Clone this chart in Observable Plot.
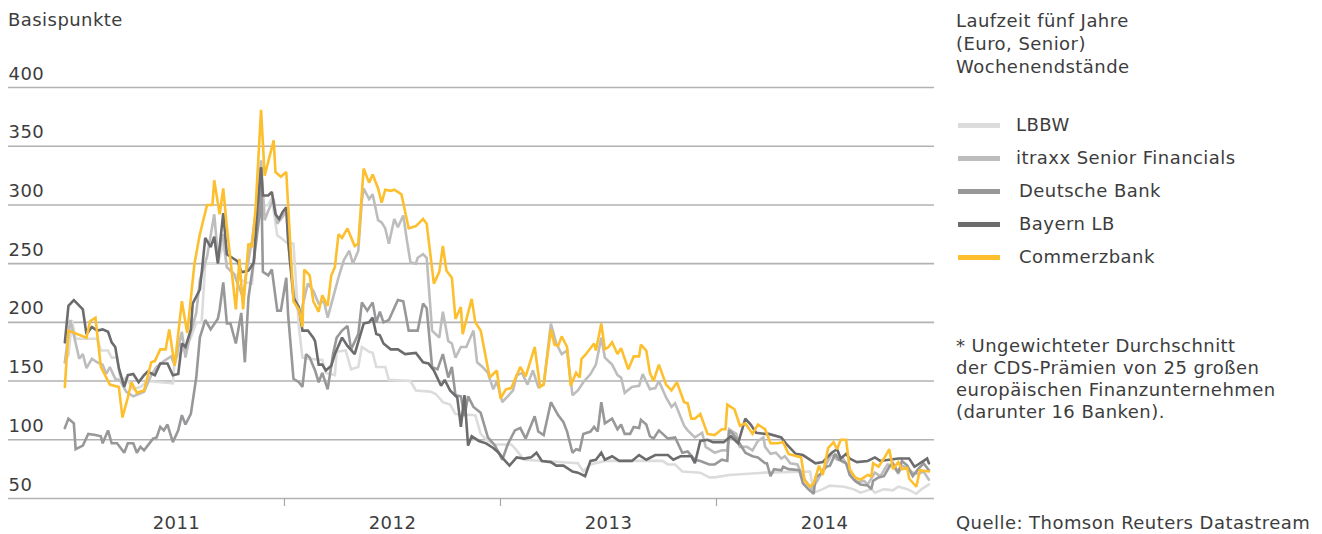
<!DOCTYPE html>
<html><head><meta charset="utf-8">
<script src="https://cdn.jsdelivr.net/npm/d3@7"></script>
<script src="https://cdn.jsdelivr.net/npm/@observablehq/plot@0.6"></script>
<style>
body{margin:0;background:#fff;font-family:"DejaVu Sans",sans-serif;color:#3d3d3d;}
#wrap{position:relative;width:1322px;height:534px;overflow:hidden;background:#fff;}
#chart{position:absolute;left:0;top:0;}
.t{position:absolute;font-size:18px;line-height:23px;letter-spacing:0.45px;white-space:nowrap;color:#3d3d3d;}
.sw{position:absolute;width:42px;height:5px;}
</style></head><body>
<div id="wrap">
<div id="chart"></div>
<div class="t" style="left:8px;top:8px">Basispunkte</div>
<div class="t" style="left:956px;top:9px">Laufzeit fünf Jahre<br>(Euro, Senior)<br>Wochenendstände</div>
<div id="legend"></div>
<div class="t" style="left:956px;top:335px;line-height:22px">* Ungewichteter Durchschnitt<br>der CDS-Prämien von 25 großen<br>europäischen Finanzunternehmen<br>(darunter 16 Banken).</div>
<div class="t" style="left:956px;top:511px">Quelle: Thomson Reuters Datastream</div>
</div>
<script>
// x = Monate seit Januar 2011 (0 = Anfang 2011), y = Basispunkte
const yTicks = [50, 100, 150, 200, 250, 300, 350, 400];
const yearLabels = ["2011", "2012", "2013", "2014"];
const yearMids = [6, 18, 30, 42];
const yearBounds = [12, 24, 36];

const seriesNames = ["LBBW", "itraxx Senior Financials", "Deutsche Bank", "Bayern LB", "Commerzbank"];
const seriesColors = ["#dcdcdc", "#bdbdbd", "#98989a", "#6c6c6f", "#fdbf2d"];

const lbbw = [[-0.2,166],[0,172],[0.2,202],[0.4,186],[1.6,186],[1.8,176],[2.2,176],[2.4,170],[2.7,170],[2.9,150],[3.2,153],[3.6,143],[4.0,145],[4.4,150],[5.8,148],[5.9,168],[6.2,174],[6.5,178],[6.8,187],[7.1,200],[7.4,200],[7.6,250],[8.1,250],[8.3,250],[8.6,267],[8.8,247],[9.6,236],[9.9,234],[10.2,233],[10.4,275],[10.6,297],[10.8,299],[11.1,300],[11.3,306],[11.6,274],[11.8,272],[12.1,268],[12.5,267],[12.8,196],[13.0,170],[13.4,169],[14.1,168],[14.3,157],[14.8,155],[14.9,175],[15.4,176],[15.7,160],[16.1,162],[16.3,179],[16.7,175],[16.9,174],[17.1,162],[17.6,162],[17.8,151],[19.0,150],[19.3,142],[20.1,141],[20.4,139],[20.8,132],[21.2,130],[21.5,122],[22.6,121],[22.9,105],[23.3,99],[23.7,96],[24.6,96],[24.9,91],[25.3,83],[26.4,82],[28.3,80],[28.6,73],[29.0,79],[29.8,82],[33.0,82],[33.3,79],[33.7,79],[34.1,73],[35.1,72],[35.6,68],[35.9,68],[36.7,70],[38.7,72],[41.2,73],[41.4,55],[41.9,58],[42.3,61],[43.1,60],[43.6,58],[44.0,55],[44.6,58],[44.8,55],[45.3,58],[45.8,57],[46.1,60],[46.6,58],[47.1,54],[47.4,58],[47.8,62]];

const itraxx = [[-0.2,166],[0.1,202],[0.3,189],[0.6,169],[0.8,173],[1.0,161],[1.3,169],[1.6,166],[1.9,164],[2.1,156],[2.3,162],[2.6,152],[2.9,150],[3.2,141],[3.4,139],[3.6,137],[3.9,139],[4.2,141],[4.6,155],[4.9,162],[5.3,167],[5.7,171],[5.9,164],[6.3,192],[6.5,170],[6.8,192],[7.1,208],[7.3,236],[7.7,256],[8.1,292],[8.3,256],[8.6,275],[8.8,247],[9.2,241],[9.7,221],[9.9,244],[10.2,270],[10.5,304],[10.7,338],[10.9,287],[11.1,295],[11.4,305],[11.6,284],[11.9,290],[12.1,295],[12.3,253],[12.6,216],[12.9,207],[13.2,227],[13.3,233],[13.6,227],[13.9,216],[14.2,218],[14.4,204],[14.7,221],[15.0,238],[15.3,253],[15.6,261],[15.8,250],[16.1,261],[16.3,304],[16.4,314],[16.7,305],[16.9,309],[17.2,287],[17.4,285],[17.6,280],[17.8,267],[18.1,288],[18.3,281],[18.6,291],[18.8,270],[19.0,251],[19.3,250],[19.4,255],[19.7,258],[19.9,255],[20.2,193],[20.6,187],[20.8,209],[21.1,184],[21.3,182],[21.5,170],[21.8,179],[22.1,179],[22.3,186],[22.5,193],[22.7,166],[23.0,162],[23.3,157],[23.6,143],[23.8,150],[24.1,132],[24.4,137],[24.7,142],[24.9,155],[25.2,157],[25.5,147],[25.8,159],[26.1,145],[26.4,147],[26.8,199],[27.1,182],[27.4,173],[27.7,176],[28.0,138],[28.3,142],[28.6,149],[29.0,156],[29.3,164],[29.6,187],[29.8,170],[30.2,164],[30.5,155],[30.7,153],[30.9,140],[31.3,145],[31.7,146],[31.9,156],[32.3,143],[32.6,144],[32.8,150],[33.2,136],[33.5,128],[33.7,131],[34.2,112],[34.4,108],[34.8,102],[35.2,106],[35.4,94],[35.7,91],[35.9,89],[36.3,91],[36.6,91],[36.7,109],[37.1,105],[37.3,94],[37.7,94],[38.0,91],[38.3,99],[38.6,102],[38.7,94],[39.0,88],[39.3,89],[39.6,84],[39.8,86],[40.1,80],[40.5,79],[40.8,68],[41.1,62],[41.3,58],[41.6,65],[41.9,74],[42.2,82],[42.4,88],[42.7,83],[43.0,85],[43.3,77],[43.6,68],[43.8,64],[44.2,65],[44.4,62],[44.8,72],[45.1,69],[45.5,79],[45.8,78],[46.1,71],[46.3,78],[46.6,76],[46.9,72],[47.2,71],[47.5,73],[47.8,66]];

const deutscheBank = [[-0.2,110],[0,118],[0.3,114],[0.4,92],[0.8,95],[1.1,105],[1.5,104],[1.8,103],[1.9,97],[2.2,108],[2.4,97],[2.7,97],[3.1,89],[3.3,97],[3.6,97],[3.8,89],[4.0,94],[4.2,91],[4.7,101],[4.9,102],[5.1,111],[5.3,108],[5.5,113],[5.8,98],[6.1,108],[6.3,121],[6.5,113],[6.8,122],[7.1,153],[7.3,187],[7.6,202],[7.9,194],[8.3,203],[8.4,211],[8.6,234],[8.8,199],[9.0,199],[9.3,182],[9.6,208],[9.8,166],[10.0,221],[10.3,253],[10.6,290],[10.7,332],[10.8,243],[11.1,240],[11.3,245],[11.6,210],[11.8,210],[12.1,238],[12.2,207],[12.5,152],[12.8,149],[13.0,145],[13.2,173],[13.4,170],[13.7,159],[13.9,149],[14.1,157],[14.4,143],[14.7,173],[14.9,187],[15.2,193],[15.5,197],[15.7,177],[16.1,190],[16.3,217],[16.6,210],[16.9,217],[17.1,200],[17.3,209],[17.5,200],[17.8,202],[18.3,219],[18.6,218],[18.9,193],[19.4,193],[19.7,216],[19.9,212],[20.2,162],[20.5,160],[20.8,173],[21.1,153],[21.3,162],[21.5,138],[21.8,137],[22.0,120],[22.2,137],[22.5,128],[22.9,123],[23.3,102],[23.7,95],[24.1,83],[24.4,96],[24.8,108],[25.1,110],[25.4,101],[25.9,120],[26.1,107],[26.4,104],[26.8,132],[27.2,121],[27.5,115],[27.7,107],[28.0,89],[28.2,92],[28.4,91],[28.6,105],[29.0,107],[29.2,111],[29.4,107],[29.6,132],[29.8,114],[30.2,118],[30.5,109],[30.7,113],[30.9,105],[31.2,105],[31.4,111],[31.7,110],[31.8,117],[32.1,113],[32.3,103],[32.5,101],[32.8,108],[33.3,101],[33.7,102],[34.1,89],[34.4,90],[34.8,83],[35.1,82],[35.6,79],[35.9,79],[36.3,83],[36.6,82],[36.7,108],[36.9,105],[37.2,99],[37.6,89],[38.0,86],[38.3,85],[38.7,80],[38.8,80],[39.0,69],[39.2,75],[39.6,74],[39.7,77],[40.0,75],[40.6,74],[40.8,63],[41.1,58],[41.4,54],[41.5,68],[41.8,71],[42.1,77],[42.3,78],[42.6,88],[42.8,83],[43.2,80],[43.4,70],[43.7,65],[44.0,62],[44.4,61],[44.6,58],[44.7,65],[45.0,68],[45.3,69],[45.6,77],[45.8,80],[46.1,72],[46.3,82],[46.6,78],[46.9,69],[47.2,75],[47.5,80],[47.8,74]];

const bayernLB = [[-0.2,183],[0,214],[0.3,219],[0.8,211],[1.0,190],[1.3,196],[1.6,193],[1.9,194],[2.2,192],[2.4,183],[2.6,179],[2.8,161],[3.1,145],[3.3,155],[3.6,156],[3.9,149],[4.2,155],[4.4,158],[4.8,155],[5.1,165],[5.5,165],[5.8,155],[6.1,156],[6.3,182],[6.5,179],[6.8,194],[6.9,216],[7.3,228],[7.4,242],[7.6,272],[7.9,264],[8.1,273],[8.3,250],[8.6,293],[8.8,258],[9.1,255],[9.4,252],[9.6,243],[9.7,243],[10.0,244],[10.3,251],[10.5,299],[10.7,332],[10.8,308],[11.1,308],[11.3,311],[11.5,292],[11.7,288],[11.9,294],[12.1,298],[12.2,270],[12.5,221],[12.8,213],[13.0,193],[13.3,193],[13.6,187],[13.7,184],[13.9,164],[14.1,164],[14.3,159],[14.6,163],[14.8,173],[15.2,187],[15.5,180],[15.9,173],[16.4,199],[16.7,200],[16.9,204],[17.1,190],[17.3,189],[17.5,182],[17.9,177],[18.3,177],[18.7,173],[19.3,174],[19.7,166],[20.0,165],[20.3,159],[20.7,146],[20.9,151],[21.2,142],[21.6,136],[21.8,111],[22.0,138],[22.2,95],[22.4,103],[22.8,99],[23.2,97],[23.6,93],[23.9,89],[24.2,83],[24.5,78],[24.9,85],[25.3,84],[25.7,85],[26.0,89],[26.3,82],[26.8,81],[27.1,78],[27.5,78],[28.0,73],[28.3,72],[28.7,69],[29.0,82],[29.3,83],[29.6,89],[29.8,83],[30.2,86],[30.6,82],[31.3,82],[31.7,87],[32.1,83],[32.6,87],[33.3,87],[33.6,83],[34.0,86],[34.6,86],[34.8,80],[35.1,99],[35.5,100],[35.8,98],[36.4,98],[36.8,103],[37.2,97],[37.6,118],[37.9,113],[38.2,106],[38.7,105],[38.9,105],[39.6,102],[39.9,96],[40.4,88],[40.8,87],[41.5,80],[41.9,81],[42.4,89],[42.7,92],[42.9,84],[43.2,88],[43.4,84],[43.8,81],[44.4,82],[44.8,85],[45.1,82],[45.6,83],[46.1,84],[46.7,84],[47.0,77],[47.3,80],[47.7,84],[47.8,80]];

const commerzbank = [[-0.2,145],[0,193],[1.0,187],[1.2,201],[1.5,204],[1.8,162],[2.3,147],[2.8,145],[3.0,119],[3.3,136],[3.5,149],[3.8,140],[4.2,142],[4.6,166],[4.8,167],[5.1,177],[5.4,177],[5.6,194],[5.9,163],[6.3,218],[6.6,191],[7.0,250],[7.3,275],[7.7,300],[8.0,300],[8.1,321],[8.4,292],[8.6,314],[8.8,281],[9.3,211],[9.5,254],[9.7,211],[10.0,267],[10.2,264],[10.4,298],[10.7,381],[10.9,325],[11.4,355],[11.5,328],[11.8,324],[12.1,328],[12.5,218],[12.8,211],[13.0,196],[13.1,245],[13.4,240],[13.6,218],[13.9,209],[14.1,223],[14.4,214],[14.6,240],[14.8,247],[15.0,275],[15.2,272],[15.5,280],[15.9,265],[16.1,267],[16.4,331],[16.7,319],[16.9,326],[17.2,314],[17.4,302],[17.6,313],[17.9,312],[18.1,313],[18.5,309],[18.9,280],[19.3,282],[19.7,288],[19.9,284],[20.3,233],[20.6,243],[20.8,265],[21.0,244],[21.3,238],[21.5,203],[21.8,213],[21.9,190],[22.4,220],[22.6,200],[22.9,193],[23.4,153],[23.8,159],[24.0,135],[24.3,143],[24.6,144],[25.1,162],[25.4,154],[25.9,179],[26.2,145],[26.4,147],[26.8,194],[27.0,181],[27.2,180],[27.4,188],[27.7,179],[27.9,146],[28.2,157],[28.4,153],[28.5,169],[28.7,172],[29.2,182],[29.3,176],[29.6,199],[29.8,177],[30.0,179],[30.2,183],[30.5,173],[30.7,178],[31.1,160],[31.4,171],[31.7,171],[31.8,181],[32.1,176],[32.3,157],[32.5,150],[32.8,164],[33.2,147],[33.5,142],[33.8,149],[34.2,132],[34.4,131],[34.6,118],[34.8,118],[35.1,122],[35.5,105],[35.9,104],[36.3,109],[36.5,109],[36.6,130],[37.0,126],[37.3,112],[37.6,114],[38.0,105],[38.3,113],[38.7,109],[39.0,97],[39.4,97],[39.7,98],[40.0,88],[40.7,85],[40.9,65],[41.2,60],[41.4,63],[41.7,78],[41.9,70],[42.2,93],[42.5,98],[42.7,92],[42.9,100],[43.2,100],[43.4,75],[43.7,68],[44.0,66],[44.4,70],[44.6,69],[44.7,80],[45.0,77],[45.3,84],[45.6,92],[45.8,75],[46.1,81],[46.3,75],[46.6,76],[46.7,67],[47.1,60],[47.3,74],[47.8,73]];

const seriesData = [lbbw, itraxx, deutscheBank, bayernLB, commerzbank];

const rows = [];
seriesData.forEach((arr, k) => arr.forEach(([m, v]) => rows.push({serie: seriesNames[k], monat: m, wert: v})));

const xMin = -3.33, xMax = 48.11;
const textColor = "#3d3d3d";

const chart = Plot.plot({
  width: 940,
  height: 534,
  marginLeft: 8,
  marginRight: 6,
  marginTop: 87,
  marginBottom: 36,
  style: {fontFamily: "DejaVu Sans, sans-serif", fontSize: "18px", letterSpacing: "0.45px", background: "transparent", color: textColor},
  x: {domain: [xMin, xMax], axis: null, label: null},
  y: {domain: [50, 400], axis: null, label: null},
  color: {domain: seriesNames, range: seriesColors},
  marks: [
    Plot.ruleY(yTicks, {stroke: "#b2b2b2", strokeWidth: 1.6}),
    Plot.text(yTicks, {x: xMin, y: d => d, text: d => String(d), textAnchor: "start", lineAnchor: "bottom", dy: -8, fontSize: 18, fill: textColor}),
    Plot.axisX(yearBounds, {tickSize: 8, tickFormat: () => "", stroke: "#a8a8a8", strokeWidth: 1.2, label: null}),
    Plot.text(yearLabels, {x: (d, i) => yearMids[i], y: 50, text: d => d, lineAnchor: "bottom", dy: 30, fontSize: 18, fill: textColor}),
    Plot.line(rows, {x: "monat", y: "wert", z: "serie", stroke: "serie", strokeWidth: 2.6, strokeLinejoin: "miter", strokeMiterlimit: 2})
  ]
});
document.getElementById("chart").appendChild(chart);

const legend = document.getElementById("legend");
seriesNames.forEach((name, i) => {
  const sw = document.createElement("div");
  sw.className = "sw";
  sw.style.left = "958px";
  sw.style.top = (122.5 + i * 33) + "px";
  sw.style.background = seriesColors[i];
  legend.appendChild(sw);
  const t = document.createElement("div");
  t.className = "t";
  t.style.left = (i < 2 ? 1016 : 1019) + "px";
  t.style.top = (113 + i * 33) + "px";
  t.textContent = name;
  legend.appendChild(t);
});
</script>
</body></html>
